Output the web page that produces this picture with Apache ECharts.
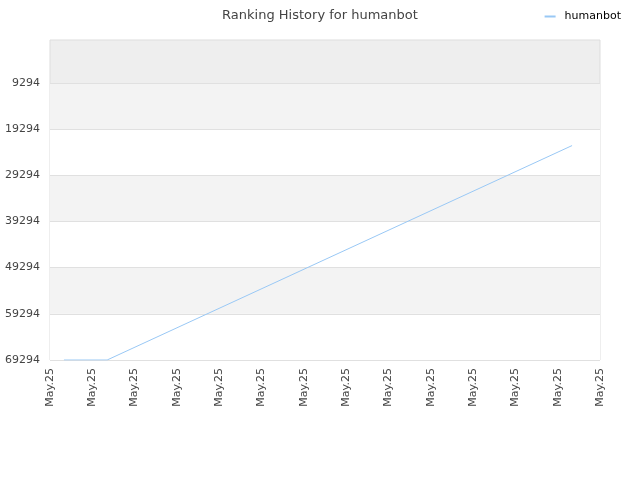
<!DOCTYPE html>
<html>
<head>
<meta charset="utf-8">
<script src="https://cdn.jsdelivr.net/npm/echarts@6/dist/echarts.min.js"></script>
<style>
html, body { margin: 0; padding: 0; background: #fff; }
#main { width: 640px; height: 480px; }
</style>
</head>
<body>
<div id="main"></div>
<script>
// ranking data (x in day offsets along the axis)
var seriesName = 'humanbot';
var dayOffsets = [0.33, 1.35, 12.34];
var ranks = [69294, 69294, 22860];
var rankTicks = [9294, 19294, 29294, 39294, 49294, 59294, 69294];
var dateTicks = ['May.25', 'May.25', 'May.25', 'May.25', 'May.25', 'May.25', 'May.25',
    'May.25', 'May.25', 'May.25', 'May.25', 'May.25', 'May.25', 'May.25'];

var myChart = echarts.init(document.getElementById('main'));

var points = dayOffsets.map(function (d, i) { return [d, ranks[i]]; });

var option = {
    animation: false,
    title: {
        text: 'Ranking History for ' + seriesName,
        left: 'center',
        top: 4,
        textStyle: { fontFamily: 'DejaVu Sans', fontSize: 13, fontWeight: 'normal', color: '#444' }
    },
    legend: {
        right: 14,
        top: 6,
        itemWidth: 11,
        itemHeight: 2,
        textStyle: { fontFamily: 'DejaVu Sans', fontSize: 11, color: '#000', padding: [0, 0, 0, 4] },
        data: [{ name: seriesName, icon: 'rect' }]
    },
    grid: {
        left: 50, right: 40, top: 40, bottom: 120,
        show: true,
        backgroundColor: '#eeeeee',
        borderColor: '#dddddd',
        borderWidth: 1
    },
    xAxis: {
        type: 'value',
        min: 0,
        max: dateTicks.length - 1,
        interval: 1,
        axisLine: { show: false },
        axisTick: { show: false },
        splitLine: { show: false },
        axisLabel: {
            rotate: 90,
            margin: 8,
            fontFamily: 'DejaVu Sans',
            fontSize: 11,
            color: '#444',
            formatter: function (v) { return dateTicks[Math.round(v)] || ''; }
        }
    },
    yAxis: {
        type: 'value',
        inverse: true,
        min: 0,
        max: 69294,
        axisLine: { show: false },
        axisTick: { show: false, customValues: rankTicks },
        axisLabel: {
            customValues: rankTicks,
            margin: 10,
            fontFamily: 'DejaVu Sans',
            fontSize: 11,
            color: '#444',
            formatter: function (v) { return String(v); }
        },
        splitLine: { show: true, lineStyle: { color: '#e0e0e0', width: 1 } },
        splitArea: {
            show: true,
            areaStyle: { color: ['#f3f3f3', '#ffffff'] }
        }
    },
    series: [{
        name: seriesName,
        type: 'line',
        data: points,
        showSymbol: false,
        symbol: 'none',
        lineStyle: { color: '#99c8f5', width: 1 },
        itemStyle: { color: '#99c8f5' }
    }]
};

myChart.setOption(option);
</script>
</body>
</html>
